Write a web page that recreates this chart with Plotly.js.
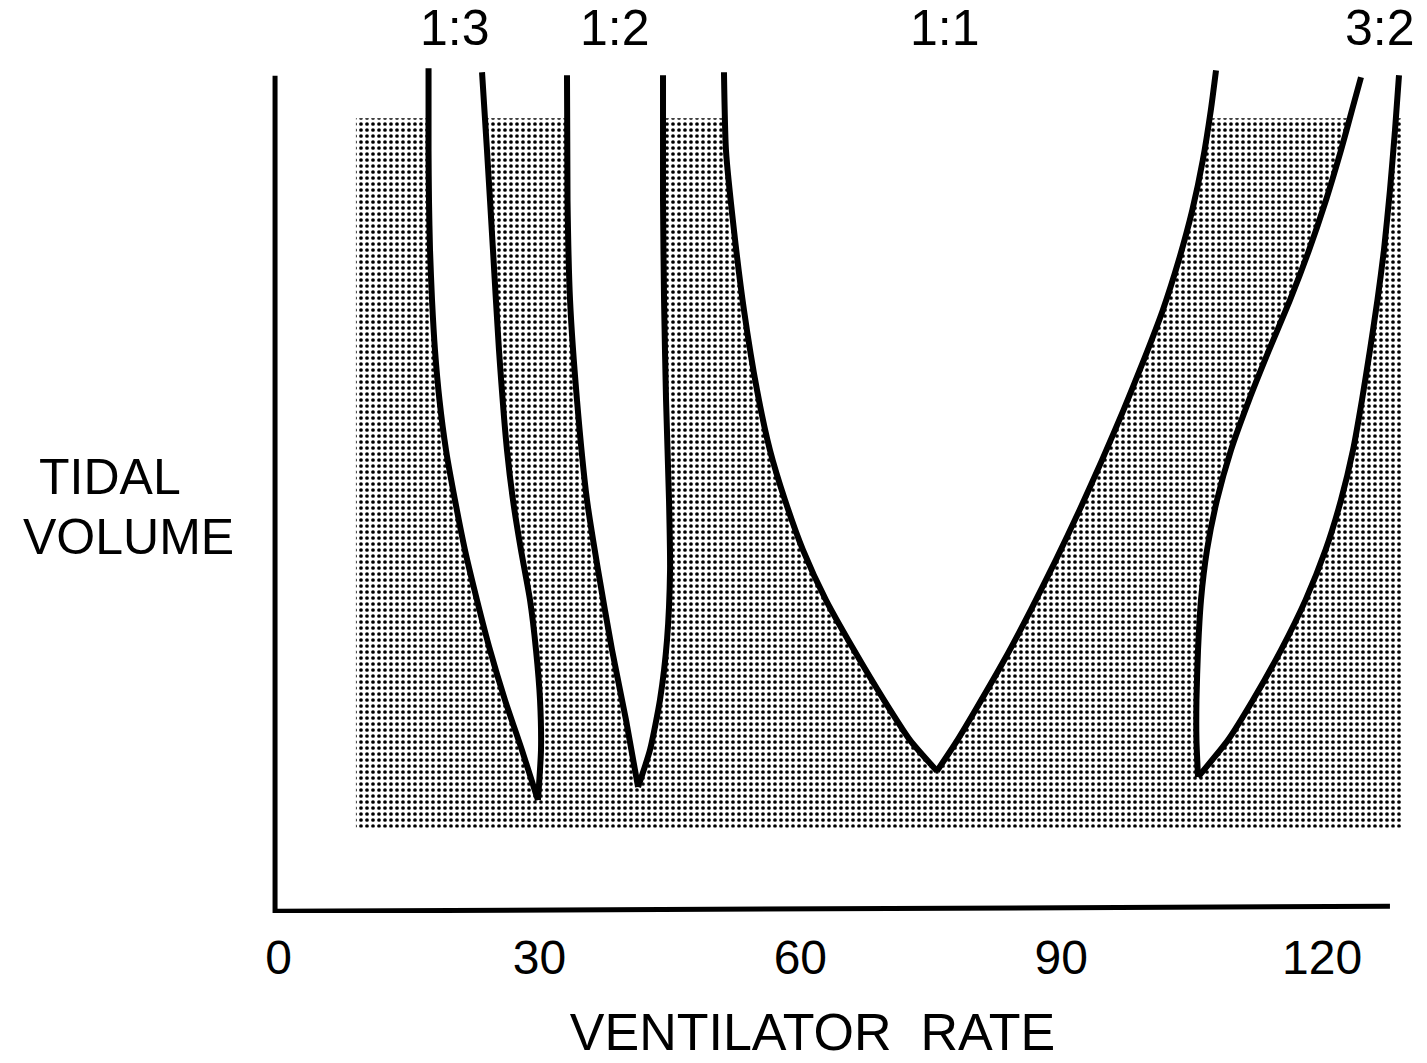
<!DOCTYPE html>
<html>
<head>
<meta charset="utf-8">
<script src="https://cdn.plot.ly/plotly-3.0.1.min.js"></script>
<style>html,body{margin:0;padding:0;background:#fff;}#chart{width:1427px;height:1063px;}</style>
</head>
<body>
<div id="chart"></div>
<script>
// ---- data (ventilator rate vs tidal volume, relative units) ----
const rateTicks = [0, 30, 60, 90, 120];
const rateTickText = ['0', '30', '60', '90', '120'];
const ratioLabels = ['1:3', '1:2', '1:1', '3:2'];
const ratioLabelRate = [20.3, 38.7, 76.6, 126.6];

const shadedRate = [8.9, 129.1];
const shadedVolume = [9.9, 95.2];

// 1:3 entrainment zone boundaries (top -> apex)
const t13LeftRate  = [17.25, 17.25, 17.30, 17.42, 17.65, 17.99, 18.51, 19.26, 20.29, 21.44, 22.82, 24.32, 26.04, 27.99, 29.83];
const t13LeftVol   = [101.20, 91.35, 85.34, 79.33, 73.32, 67.31, 61.30, 55.29, 49.28, 43.27, 37.26, 31.25, 25.24, 19.23, 13.22];
const t13RightRate = [23.40, 23.97, 24.66, 25.35, 26.27, 26.96, 27.88, 28.92, 29.61, 30.07, 30.18, 29.83];
const t13RightVol  = [100.72, 91.35, 79.33, 67.31, 55.29, 49.28, 43.27, 37.26, 31.25, 25.24, 19.23, 13.22];

// 1:2
const t12LeftRate  = [33.17, 33.23, 33.52, 34.32, 35.47, 36.74, 38.35, 39.96, 41.34];
const t12LeftVol   = [100.36, 85.34, 73.32, 61.30, 49.28, 40.87, 31.25, 22.84, 14.78];
const t12RightRate = [44.21, 44.21, 44.33, 44.56, 44.90, 45.02, 44.67, 43.86, 42.71, 41.34];
const t12RightVol  = [100.36, 85.34, 73.32, 61.30, 49.28, 40.87, 32.45, 25.24, 19.23, 14.78];

// 1:1
const t11LeftRate  = [51.22, 51.45, 52.37, 53.52, 55.02, 56.51, 58.24, 60.31, 62.95, 66.17, 69.62, 72.61, 75.71];
const t11LeftVol   = [100.72, 91.35, 81.73, 72.12, 62.50, 55.29, 49.28, 43.27, 37.26, 31.25, 25.24, 20.43, 16.71];
const t11RightRate = [107.80, 107.20, 106.28, 105.07, 103.52, 101.68, 99.49, 97.16, 94.69, 92.10, 89.38, 86.50, 83.45, 80.14, 78.07, 75.71];
const t11RightVol  = [100.96, 96.15, 90.14, 84.13, 78.13, 72.12, 66.11, 60.10, 54.09, 48.08, 42.07, 36.06, 30.05, 24.04, 20.43, 16.71];

// 3:2
const t32LeftRate  = [124.47, 123.43, 122.17, 120.44, 118.49, 116.30, 113.89, 111.59, 109.52, 107.91, 106.76, 106.07, 105.73, 105.55, 105.55, 105.73];
const t32LeftVol   = [100.12, 96.15, 91.35, 85.34, 79.33, 73.32, 67.31, 61.30, 55.29, 49.28, 43.27, 37.26, 31.25, 25.24, 20.43, 15.99];
const t32RightRate = [128.84, 128.38, 127.80, 127.11, 126.36, 125.50, 124.58, 123.55, 122.17, 120.39, 118.09, 115.27, 112.05, 109.18, 105.73];
const t32RightVol  = [100.36, 93.75, 86.54, 79.33, 73.32, 67.31, 61.30, 55.29, 49.28, 43.27, 37.26, 31.25, 25.24, 20.43, 15.99];

// ---- build traces ----
const FONT = 'Liberation Sans, Arial, Helvetica, sans-serif';
const tongues = [
  [t13LeftRate, t13LeftVol, t13RightRate, t13RightVol],
  [t12LeftRate, t12LeftVol, t12RightRate, t12RightVol],
  [t11LeftRate, t11LeftVol, t11RightRate, t11RightVol],
  [t32LeftRate, t32LeftVol, t32RightRate, t32RightVol]
];

const traces = [];
// stippled region
traces.push({
  x: [shadedRate[0], shadedRate[1], shadedRate[1], shadedRate[0], shadedRate[0]],
  y: [shadedVolume[0], shadedVolume[0], shadedVolume[1], shadedVolume[1], shadedVolume[0]],
  mode: 'lines', fill: 'toself', line: {width: 0, color: 'rgba(0,0,0,0)'},
  fillcolor: '#ffffff',
  fillpattern: {shape: '.', fgcolor: '#000000', bgcolor: '#ffffff', size: 6, solidity: 0.3},
  hoverinfo: 'skip'
});
// white tongues
tongues.forEach(t => {
  traces.push({
    x: t[0].concat(t[2].slice().reverse()),
    y: t[1].concat(t[3].slice().reverse()),
    mode: 'lines', fill: 'toself', fillcolor: '#ffffff',
    line: {width: 0, color: 'rgba(0,0,0,0)', shape: 'spline', smoothing: 0.6}, hoverinfo: 'skip'
  });
});
// boundary curves
tongues.forEach(t => {
  [[t[0], t[1]], [t[2], t[3]]].forEach(c => {
    traces.push({
      x: c[0], y: c[1], mode: 'lines',
      line: {color: '#000000', width: 6, shape: 'spline', smoothing: 0.6},
      hoverinfo: 'skip'
    });
  });
});

const annotations = ratioLabels.map((lab, i) => ({
  text: lab, xref: 'x', x: ratioLabelRate[i], yref: 'paper', y: 1.031,
  xanchor: 'center', yanchor: 'middle', showarrow: false,
  font: {family: FONT, size: 50, color: '#000'}
}));
annotations.push({text: 'TIDAL', xref: 'paper', yref: 'paper', x: -0.093, y: 0.508,
  xanchor: 'center', yanchor: 'middle', showarrow: false, font: {family: FONT, size: 50, color: '#000'}});
annotations.push({text: 'VOLUME', xref: 'paper', yref: 'paper', x: -0.077, y: 0.438,
  xanchor: 'center', yanchor: 'middle', showarrow: false, font: {family: FONT, size: 50, color: '#000'}});

const layout = {
  width: 1427, height: 1063,
  margin: {l: 220, r: 22, t: 55, b: 150},
  paper_bgcolor: '#ffffff', plot_bgcolor: '#ffffff',
  showlegend: false,
  xaxis: {
    range: [-6.73, 129.53], showgrid: false, zeroline: false, showline: false,
    tickvals: rateTicks, ticktext: rateTickText, ticks: '',
    tickfont: {family: FONT, size: 48, color: '#000'},
    ticklabelstandoff: 12,
    title: {text: 'VENTILATOR\u00a0 RATE', font: {family: FONT, size: 52, color: '#000'}, standoff: 30},
    fixedrange: true
  },
  yaxis: {
    range: [-0.36, 102.8], showgrid: false, zeroline: false, showline: false,
    showticklabels: false, ticks: '', fixedrange: true
  },
  shapes: [{
    type: 'path', xref: 'x', yref: 'y',
    path: 'M -0.4,100.3 L -0.4,-0.15 L 127.8,0.45',
    line: {color: '#000000', width: 5}
  }],
  annotations: annotations
};

Plotly.newPlot('chart', traces, layout, {displayModeBar: false, staticPlot: true});
</script>
</body>
</html>
